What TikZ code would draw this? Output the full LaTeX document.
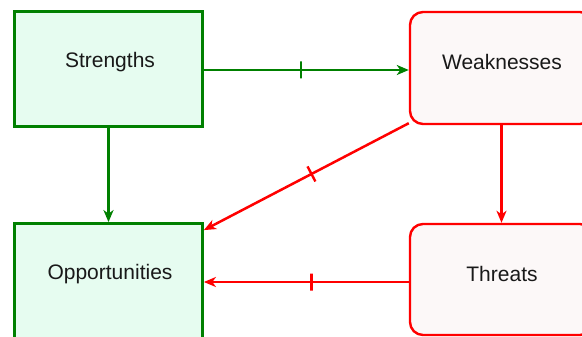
\documentclass[tikz,border=0pt]{standalone}
\usepackage{fontspec}
\setmainfont{Liberation Sans}
\usetikzlibrary{arrows.meta}
\definecolor{sgreen}{RGB}{0,128,0}
\definecolor{sfill}{RGB}{230,252,240}
\definecolor{wred}{RGB}{255,0,0}
\definecolor{wfill}{RGB}{252,248,248}
\tikzset{
  gbox/.style={draw=sgreen, fill=sfill, line width=2.8pt, rectangle, inner sep=0pt, minimum width=188pt, minimum height=115pt},
  rbox/.style={draw=wred, fill=wfill, line width=2.4pt, rectangle, rounded corners=13pt, inner sep=0pt, minimum width=183pt, minimum height=112pt},
  lbl/.style={font=\fontsize{21pt}{23pt}\selectfont, text=black!90, inner sep=0pt},
  garrow/.style={draw=sgreen, line width=2.5pt, -{Stealth[length=12pt,width=10pt,inset=3.5pt]}},
  rarrow/.style={draw=wred, line width=2.5pt, -{Stealth[length=12pt,width=10pt,inset=3.5pt]}},
  tickmark/.style={sloped, rectangle, draw, line width=2.4pt, minimum width=0pt, minimum height=17pt, inner sep=0pt, pos=0.475}
}
\begin{document}
\begin{tikzpicture}[x=1pt,y=-1pt]
\useasboundingbox (0,0) rectangle (582,337);
\node[gbox] (S) at (108.5,69) {};
\node[gbox] (O) at (108.5,281) {};
\node[rbox] (W) at (501.5,68) {};
\node[rbox, minimum height=111pt] (T) at (501.5,279.5) {};
\node[lbl] (St) at (110,62) {Strengths};
\node[lbl] (Wt) at (502,62) {Weaknesses};
\node[lbl] (Ot) at (110,274.5) {Opportunities};
\node[lbl] (Tt) at (502,273.5) {Threats};
\draw[garrow] ([yshift=-1pt]S.east) -- ([yshift=-1pt]S.east -| W.west) node[tickmark, draw=sgreen] {};
\draw[garrow] (S.south) -- (O.north);
\draw[rarrow] ([yshift=2pt]W.south west) -- ([yshift=-8pt]O.north east) node[tickmark, draw=wred] {};
\draw[rarrow] (W.south) -- (T.north);
\draw[rarrow] ([yshift=-2.5pt]T.west) -- ([yshift=-2.5pt]T.west -| O.east) node[tickmark, draw=wred] {};
\end{tikzpicture}
\end{document}
